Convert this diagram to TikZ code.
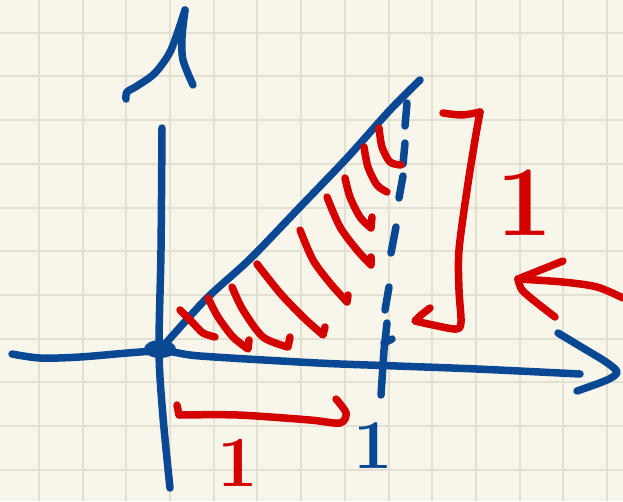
\documentclass[tikz,border=0pt]{standalone}
\usepackage{tikz}
\definecolor{pap}{RGB}{248,246,234}
\definecolor{grd}{RGB}{226,223,211}
\definecolor{blu}{RGB}{10,72,148}
\definecolor{rd}{RGB}{212,0,0}

\begin{document}
\begin{tikzpicture}[x=1pt,y=-1pt,
    pen/.style={line width=7.5pt,line cap=round,line join=round},
    digit/.style={inner sep=0pt,font=\fontsize{#1}{#1}\selectfont\bfseries}]
    \useasboundingbox (0,0) rectangle (623,501);
    \fill[pap] (0,0) rectangle (623,501);
    \foreach \i in {0,...,13}
        \draw[grd,line width=2pt] ({38.9+43.7*\i},0) -- ({38.9+43.7*\i},501);
    \foreach \j in {0,...,10}
        \draw[grd,line width=2pt] (0,{32.7+43.7*\j}) -- (623,{32.7+43.7*\j});
    %
    \coordinate (O) at (159,351);
    \coordinate (T) at (420,80);
    %
    \begin{scope}[pen,blu]
        % axes
        \draw plot[smooth] coordinates {(12,354) (40,358) (80,357) (O) (200,356) (318,363) (397,366) (477,369) (580,374)};
        \draw plot[smooth] coordinates {(162,128) (161,250) (O) (163,417) (170,488)};
        \draw plot[smooth] coordinates {(558,333) (583,348) (606,362) (617,372) (607,380) (577,391)};
        \draw plot[smooth] coordinates {(126,99) (127,92) (137,86) (155,73) (171,50) (185,10)};
        \draw plot[smooth] coordinates {(185,10) (182,37) (183,60) (193,85)};
        \fill (160,349) ellipse (16 and 9);
        % diagonal
        \draw plot[smooth] coordinates {(O) (205,300) (250,259) (300,207) (347,158) (390,110) (T)};
        % dashes at x = 1
        \draw (407,103) -- (405,126);
        \draw (405,143) -- (403,164);
        \draw (403,176) -- (399,198);
        \draw (396,227) -- (391,253);
        \draw (389,287) -- (385,310);
        \draw (387,323) -- (384,350) -- (381,395);
        \draw (384,343) -- (392,339);
    \end{scope}
    \node[digit=70,blu] (xone) at (373,446) {1};
    %
    \begin{scope}[pen,rd]
        % hatching
        \draw plot[smooth] coordinates {(180,310) (193,323) (203,333) (215,337)};
        \draw plot[smooth] coordinates {(208,298) (218,317) (233,337) (248,349)} -- (249,340);
        \draw plot[smooth] coordinates {(232,287) (243,310) (263,337) (288,347)} -- (290,337);
        \draw plot[smooth] coordinates {(257,264) (280,293) (303,317) (323,335)} -- (325,327);
        \draw plot[smooth] coordinates {(300,230) (313,260) (330,283) (347,302)} -- (348,295);
        \draw plot[smooth] coordinates {(327,197) (340,227) (357,250) (371,265)} -- (371,257);
        \draw plot[smooth] coordinates {(345,178) (350,197) (360,217) (371,228)} -- (372,217);
        \draw plot[smooth] coordinates {(364,147) (368,167) (377,185) (387,192)};
        \draw plot[smooth] coordinates {(379,128) (382,147) (390,162) (401,165)};
        % brackets
        \draw plot[smooth] coordinates {(177,405) (179,415)} -- plot[smooth] coordinates {(179,415) (238,415) (310,420) (340,423) (346,413) (336,399)};
        \draw plot[smooth] coordinates {(443,113) (462,115) (480,112)};
        \draw plot[smooth] coordinates {(480,112) (475,140) (467,190) (459,250) (459,290) (461,322) (456,329) (433,325) (415,321)} -- (421,315) -- (430,308);
        % arrow
        \draw plot[smooth] coordinates {(623,298) (597,287) (563,282) (518,279)};
        \draw plot[smooth] coordinates {(563,261) (553,265) (533,273) (518,279)};
        \draw plot[smooth] coordinates {(518,279) (522,290) (537,303) (555,317)};
    \end{scope}
    \node[digit=72,rd] (bone) at (238,463) {1};
    \node[digit=100,rd] (rone) at (525,203) {1};
\end{tikzpicture}
\end{document}
